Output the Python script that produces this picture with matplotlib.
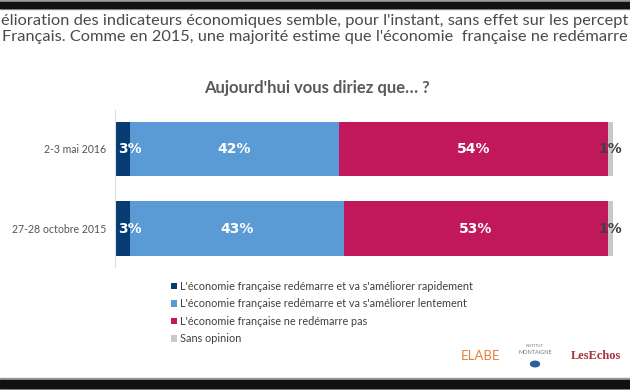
import matplotlib.pyplot as plt
from matplotlib.patches import Rectangle, Circle

# Data
periods = ["2-3 mai 2016", "27-28 octobre 2015"]
series_labels = [
    "L'économie française redémarre et va s'améliorer rapidement",
    "L'économie française redémarre et va s'améliorer lentement",
    "L'économie française ne redémarre pas",
    "Sans opinion",
]
rapidement = [3, 3]
lentement = [42, 43]
ne_redemarre_pas = [54, 53]
sans_opinion = [1, 1]

# header as visible in the (cropped) slide
title_lines = [
    "élioration des indicateurs économiques semble, pour l'instant, sans effet sur les percept",
    "Français. Comme en 2015, une majorité estime que l'économie  française ne redémarre",
]
question = "Aujourd'hui vous diriez que… ?"

colors = ["#063b73", "#5b9bd5", "#c0185a", "#c9c9c9"]
label_colors = ["white", "white", "white", "#404040"]

W, H = 630, 390
fig = plt.figure(figsize=(W / 100, H / 100), dpi=100)
plt.rcParams['font.family'] = ['Lato', 'DejaVu Sans']

# black frame bands at top and bottom
for y0, h in [(0, 9), (378, 12)]:
    fig.patches.append(Rectangle((0, 1 - (y0 + h) / H), 1, h / H, transform=fig.transFigure,
                                 color="#9a9a9a", zorder=0))
for y0, h in [(2, 6), (380, 8)]:
    fig.patches.append(Rectangle((0, 1 - (y0 + h) / H), 1, h / H, transform=fig.transFigure,
                                 color="#111111", zorder=1))

# header text
fig.text(315 / W, 1 - 21 / H, title_lines[0], ha='center', va='center', fontsize=11.8, color="#4a4a4a")
fig.text(315 / W, 1 - 37 / H, title_lines[1], ha='center', va='center', fontsize=11.8, color="#4a4a4a")
fig.text(317 / W, 1 - 88 / H, question, ha='center', va='center', fontsize=12,
         color="#595959", fontweight='bold')

# bars
ax = fig.add_axes([115 / W, 1 - 267 / H, 498 / W, 157 / H])
series = [rapidement, lentement, ne_redemarre_pas, sans_opinion]
ypos = list(range(len(periods)))
left = [0] * len(periods)
handles = []
for k, vals in enumerate(series):
    b = ax.barh(ypos, vals, left=left, height=0.68, color=colors[k], label=series_labels[k])
    handles.append(b)
    for i, v in enumerate(vals):
        if k == 0:
            ax.text(left[i] + 0.6, ypos[i], f"{v}%", ha='left', va='center', color=label_colors[k],
                    fontsize=10, fontweight='bold', family=['DejaVu Sans'])
        else:
            ax.text(left[i] + v / 2, ypos[i], f"{v}%", ha='center', va='center', color=label_colors[k],
                    fontsize=10, fontweight='bold', family=['DejaVu Sans'])
    left = [l + v for l, v in zip(left, vals)]

ax.set_xlim(0, 100)
ax.set_ylim(1.484, -0.49)
ax.set_yticks(ypos)
ax.set_yticklabels(periods, fontsize=7.6, color="#555555")
ax.tick_params(axis='y', length=0, pad=6.5)
ax.set_xticks([])
for s in ["top", "right", "bottom"]:
    ax.spines[s].set_visible(False)
ax.spines["left"].set_color("#dddddd")
ax.spines["left"].set_linewidth(0.8)

# legend
fig.legend(handles=handles, labels=series_labels, loc='upper left',
           bbox_to_anchor=(161 / W, 1 - 271 / H), frameon=False, fontsize=7.8,
           handlelength=0.55, handleheight=0.55, handletextpad=0.35, labelspacing=0.6,
           labelcolor="#404040")

# partner logos as text
fig.text(481 / W, 1 - 356 / H, "ELABE", ha='center', va='center', fontsize=9.5, color="#e8803c")
fig.text(535 / W, 1 - 346 / H, "INSTITUT", ha='center', va='center', fontsize=3, color="#777777")
fig.text(535 / W, 1 - 352 / H, "MONTAIGNE", ha='center', va='center', fontsize=4, color="#777777")
fig.patches.append(Circle((535 / W, 1 - 364 / H), 4.5 / W, transform=fig.transFigure,
                          color="#2a5e9c"))
fig.text(596 / W, 1 - 356 / H, "LesEchos", ha='center', va='center', fontsize=9,
         color="#a8323a", family=['Liberation Serif'], fontweight='bold')

fig.savefig("out.png", dpi=100)
